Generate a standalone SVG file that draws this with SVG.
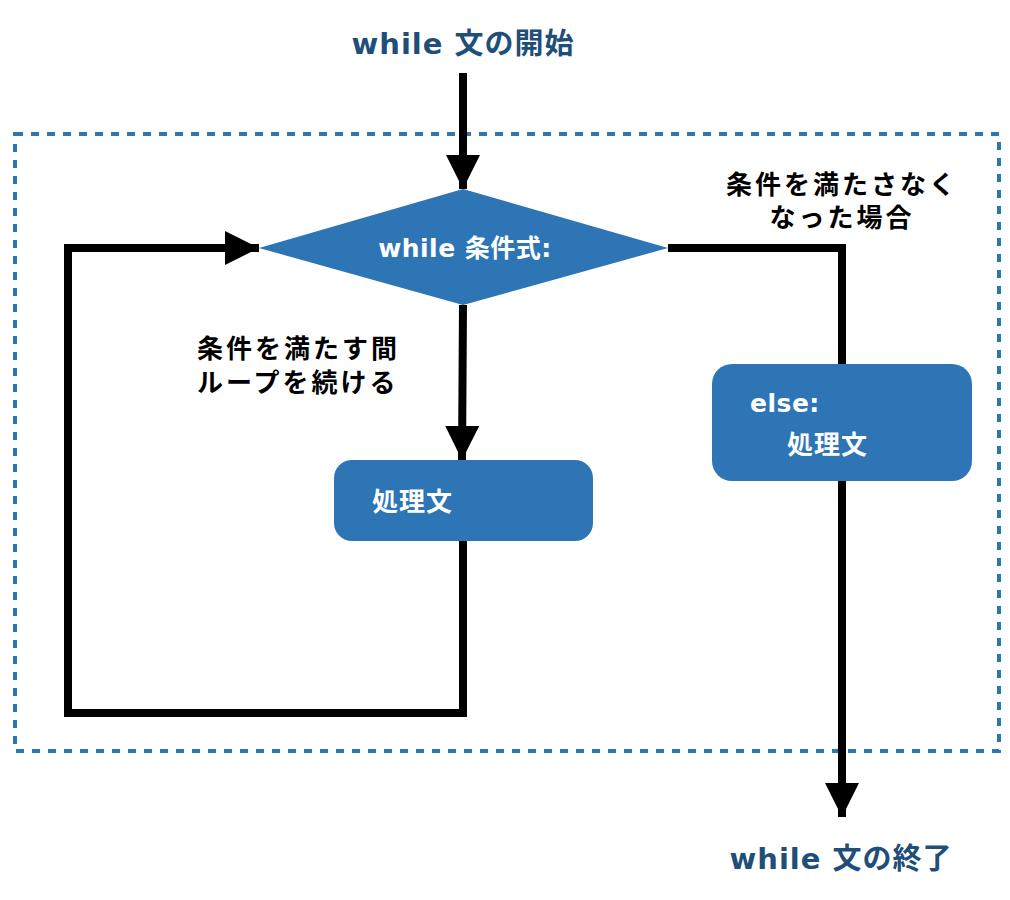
<svg xmlns="http://www.w3.org/2000/svg" width="1010" height="900" viewBox="0 0 1010 900">
<style>
text{font-family:"DejaVu Sans","Noto Sans CJK JP",sans-serif;font-weight:bold}
.title{font-size:29px;fill:#1f4e79;letter-spacing:1px}
.lbl{font-size:26px;fill:#000;letter-spacing:3px}
.w{fill:#fff;font-size:25px;letter-spacing:0.5px}
.shape{fill:#2e75b6}
.ln{fill:none;stroke:#000;stroke-width:8}
</style>
<defs>
<marker id="ah" markerWidth="34" markerHeight="34" viewBox="0 0 34 34" refX="34" refY="17" orient="auto" markerUnits="userSpaceOnUse">
<path d="M0,0 L34,17 L0,34 Z" fill="#000"/>
</marker>
</defs>
<rect x="15" y="134" width="984" height="617" fill="none" stroke="#2e75b6" stroke-width="4" stroke-dasharray="8 8"/>
<g id="connectors">
<path class="ln" d="M463,73 V189" marker-end="url(#ah)"/>
<path class="ln" d="M463,305 L462,460" marker-end="url(#ah)"/>
<path class="ln" d="M463,541 V713 H68 V248 H259" marker-end="url(#ah)"/>
<path class="ln" d="M668,248 H842 V364"/>
<path class="ln" d="M842,481 V817" marker-end="url(#ah)"/>
</g>
<g id="start"><text class="title" x="463" y="54" text-anchor="middle">while 文の開始</text></g>
<g id="cond">
<polygon class="shape" points="463,189 668,248 463,305 259,248"/>
<text class="w" x="465" y="257" text-anchor="middle">while 条件式:</text>
</g>
<g id="label-true">
<text class="lbl" x="197" y="358">条件を満たす間</text>
<text class="lbl" x="197" y="392">ループを続ける</text>
</g>
<g id="label-false">
<text class="lbl" x="842" y="194" text-anchor="middle">条件を満たさなく</text>
<text class="lbl" x="842" y="227" text-anchor="middle">なった場合</text>
</g>
<g id="body">
<rect class="shape" x="334" y="460" width="259" height="81" rx="18"/>
<text class="w" x="372" y="511" style="font-size:26px;letter-spacing:1px">処理文</text>
</g>
<g id="else">
<rect class="shape" x="712" y="364" width="260" height="117" rx="20"/>
<text class="w" x="750" y="412">else:</text>
<text class="w" x="787" y="454" style="font-size:26px;letter-spacing:1px">処理文</text>
</g>
<g id="end"><text class="title" x="841" y="869" text-anchor="middle">while 文の終了</text></g>
</svg>
